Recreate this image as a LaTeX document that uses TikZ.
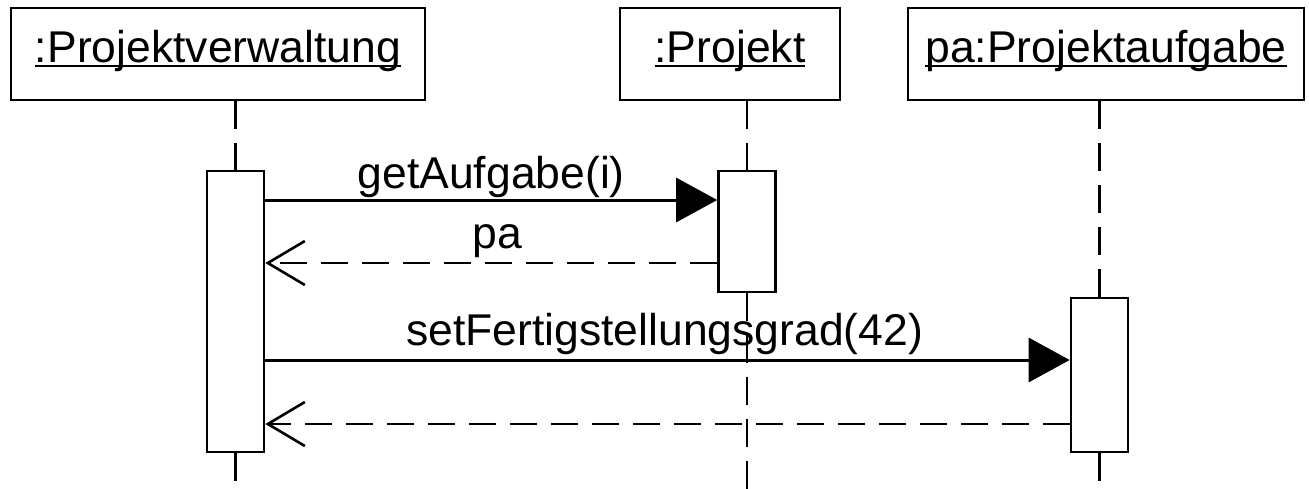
\documentclass[tikz,border=0pt]{standalone}
\usepackage{fontspec}
\setmainfont{Liberation Sans}
\usetikzlibrary{arrows.meta,calc}
\newcommand\ulname[1]{\setbox0\hbox{#1}\rlap{\rule[-4.5pt]{\wd0}{2pt}}\box0}
\begin{document}
\begin{tikzpicture}[x=1pt,y=-1pt,
  obj/.style={draw,line width=2.6pt,minimum height=92pt,inner sep=0pt,text height=31.5pt,text depth=14pt,font=\fontsize{44.5}{50}\selectfont},
  act/.style={draw,line width=2.6pt,fill=white,minimum width=57pt,inner sep=0pt},
  life/.style={line width=2.4pt,dash pattern=on 28pt off 14pt},
  call/.style={line width=3pt,-{Triangle[length=41pt,width=44pt]}},
  ret/.style={line width=2.6pt,dash pattern=on 27pt off 14pt,-{Straight Barb[length=37pt,width=44pt,line width=2.6pt]}},
  lbl/.style={font=\fontsize{44.5}{50}\selectfont,anchor=base,inner sep=0pt}]
\useasboundingbox[fill=white] (0,0) rectangle (1309,488);
% objects
\node[obj,minimum width=414pt] (pv) at (218,54) {\ulname{:Projektverwaltung}};
\node[obj,minimum width=220pt] (pr) at (730,54) {\ulname{:Projekt}};
\node[obj,minimum width=396pt] (pt) at (1106,54) {\ulname{pa:Projektaufgabe}};
% activations
\node[act,minimum height=281pt] (a1) at (235.5,311.5) {};
\node[act,minimum height=121pt] (a2) at (747,231.5) {};
\node[act,minimum height=154pt] (a3) at (1099.5,375) {};
% lifelines
\coordinate (bot) at (0,492);
\draw[life] (a1.north |- pv.south) -- (a1.north);
\draw[life] (a1.south) -- (a1.south |- bot);
\draw[life] (a2.north |- pr.south) -- (a2.north);
\draw[life] (a2.south) -- (a2.south |- bot);
\draw[life] (a3.north |- pt.south) -- (a3.north);
\draw[life] (a3.south) -- (a3.south |- bot);
% messages
\coordinate (m1) at (0,200);
\coordinate (m2) at (0,263);
\coordinate (m3) at (0,360);
\coordinate (m4) at (0,424);
\draw[call] (a1.east |- m1) -- (a2.west |- m1) node[lbl,midway,yshift=12pt] {getAufgabe(i)};
\draw[ret] (a2.west |- m2) -- (a1.east |- m2) node[lbl,midway,yshift=15pt,xshift=6pt] {pa};
\draw[call] (a1.east |- m3) -- (a3.west |- m3) node[lbl,midway,yshift=15pt,xshift=-3pt] {setFertigstellungsgrad(42)};
\draw[ret] (a3.west |- m4) -- (a1.east |- m4);
\end{tikzpicture}
\end{document}
